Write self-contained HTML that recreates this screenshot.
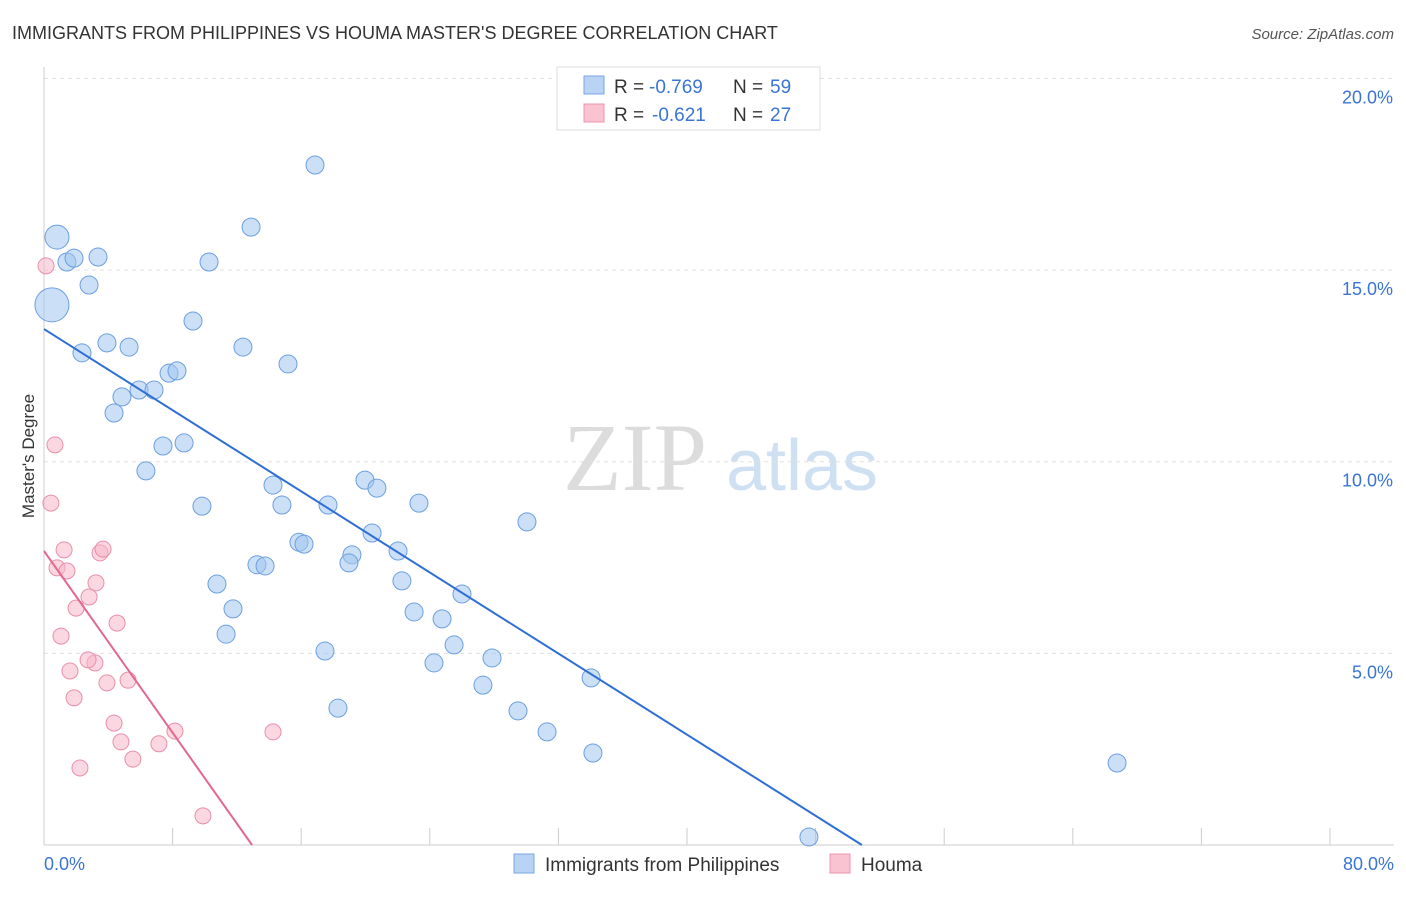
<!DOCTYPE html>
<html><head><meta charset="utf-8"><style>
body{margin:0;background:#fff;font-family:"Liberation Sans",sans-serif;}
</style></head><body>
<svg id="c" width="1406" height="892" xmlns="http://www.w3.org/2000/svg" style="font-family:'Liberation Sans',sans-serif">
<text x="12" y="39" font-size="18" fill="#333">IMMIGRANTS FROM PHILIPPINES VS HOUMA MASTER'S DEGREE CORRELATION CHART</text>
<text x="1394" y="39" font-size="15" fill="#555" font-style="italic" text-anchor="end">Source: ZipAtlas.com</text>
<g>
<text x="635" y="490" font-size="96" fill="#dcdcdc" font-family="Liberation Serif,serif" text-anchor="middle">ZIP</text>
<text x="802" y="490" font-size="72" fill="#cfe0f3" text-anchor="middle">atlas</text>
</g>
<g id="grid"></g>
<g id="axes"></g>
<g id="marks"></g>
<text transform="translate(34,456) rotate(-90)" font-size="17" fill="#333" text-anchor="middle">Master's Degree</text>
<text x="44" y="870" font-size="18" fill="#3a75d4">0.0%</text>
<text x="1394" y="870" font-size="18" fill="#3a75d4" text-anchor="end">80.0%</text>
<g>
<rect x="557" y="67" width="263" height="63" fill="#fff" stroke="#ddd"/>
<rect x="584" y="76" width="20" height="18" fill="#b9d3f5" stroke="#7aa6e4"/>
<rect x="584" y="104" width="20" height="18" fill="#f9c3d2" stroke="#ec94ad"/>
<text x="614" y="93" font-size="19" fill="#333">R =</text>
<text x="649" y="93" font-size="19" fill="#3a75d4">-0.769</text>
<text x="733" y="93" font-size="19" fill="#333">N =</text>
<text x="770" y="93" font-size="19" fill="#3a75d4">59</text>
<text x="614" y="121" font-size="19" fill="#333">R =</text>
<text x="652" y="121" font-size="19" fill="#3a75d4">-0.621</text>
<text x="733" y="121" font-size="19" fill="#333">N =</text>
<text x="770" y="121" font-size="19" fill="#3a75d4">27</text>
</g>
<g>
<rect x="514" y="854" width="20" height="19" fill="#b9d3f5" stroke="#7aa6e4"/>
<text x="545" y="871" font-size="19" fill="#333">Immigrants from Philippines</text>
<rect x="830" y="854" width="20" height="19" fill="#f9c3d2" stroke="#ec94ad"/>
<text x="861" y="871" font-size="19" fill="#333">Houma</text>
</g>
</svg>
<script>
const yTicks=[5,10,15,20];
const yTickLabels=["5.0%","10.0%","15.0%","20.0%"];
const blueX=[0.77,0.47,1.36,1.78,3.20,2.67,2.25,3.73,5.04,4.62,4.15,5.63,6.52,7.41,7.88,8.83,9.78,12.27,16.06,11.79,14.46,7.05,8.30,6.04,9.36,13.57,14.10,15.11,15.41,16.83,19.02,19.73,22.22,19.44,18.25,18.07,20.98,12.62,13.10,10.25,11.20,10.79,21.21,21.93,23.59,24.77,24.30,23.11,26.55,26.01,28.09,17.42,16.65,28.62,29.81,32.42,32.53,63.59,45.33];
const blueY=[15.86,14.09,15.21,15.31,15.34,14.61,12.84,13.10,12.99,11.69,11.27,11.87,11.87,12.31,12.37,13.67,15.21,16.12,17.74,12.99,12.55,10.41,10.49,9.76,8.84,9.39,8.87,7.90,7.85,8.87,9.52,9.31,8.92,8.14,7.57,7.36,7.67,7.31,7.28,6.81,6.16,5.50,6.89,6.08,5.90,6.55,5.22,4.75,4.88,4.17,3.50,3.57,5.06,8.43,2.95,4.36,2.40,2.14,0.21];
const blueR=[12,17];
const pinkX=[0.12,0.65,0.41,1.19,0.77,1.36,3.32,3.50,3.08,2.67,1.90,4.33,1.01,3.02,2.61,1.54,4.98,3.73,1.78,4.15,4.56,7.76,6.81,5.27,2.13,13.57,9.42];
const pinkY=[15.11,10.44,8.92,7.70,7.23,7.15,7.62,7.72,6.84,6.47,6.18,5.79,5.45,4.75,4.83,4.54,4.30,4.23,3.84,3.18,2.69,2.97,2.64,2.24,2.01,2.95,0.76];
const blueLine=[[0,13.46],[48.47,0]];
const pinkLine=[[0,7.67],[12.33,0]];
const NS="http://www.w3.org/2000/svg";
const sx=v=>44+v*1350/80, sy=v=>845-v*38.33;
function mk(p,t,a){const e=document.createElementNS(NS,t);for(const k in a)e.setAttribute(k,a[k]);p.appendChild(e);return e;}
const grid=document.getElementById('grid'),axes=document.getElementById('axes'),marks=document.getElementById('marks');
yTicks.forEach((t,i)=>{
 const l=mk(grid,'line',{x1:44,x2:1394,y1:sy(t),y2:sy(t),stroke:'#e0e0e0','stroke-dasharray':'4,4'});
 
 
 const tx=mk(grid,'text',{x:1393,y:sy(t)+25,'font-size':18,fill:'#3a75d4','text-anchor':'end'});
 tx.textContent=yTickLabels[i];
 
 
});
mk(axes,'line',{x1:44,x2:44,y1:67,y2:845,stroke:'#ccc'});
mk(axes,'line',{x1:44,x2:1394,y1:845,y2:845,stroke:'#ccc'});
for(let k=1;k<=10;k++){const x=44+k*128.6;const t=mk(axes,'line',{x1:x,x2:x,y1:828,y2:845,stroke:'#ccc'});
 
 }
blueX.forEach((x,i)=>{const c=mk(marks,'circle',{cx:sx(x),cy:sy(blueY[i]),r:blueR[i]||9,fill:'rgba(160,196,240,0.55)',stroke:'#6d9fe0','stroke-width':1});
 
 });
pinkX.forEach((x,i)=>{const c=mk(marks,'circle',{cx:sx(x),cy:sy(pinkY[i]),r:8,fill:'rgba(248,182,202,0.55)',stroke:'#e98fab','stroke-width':1});
 
 });
const bl=mk(marks,'line',{x1:sx(blueLine[0][0]),y1:sy(blueLine[0][1]),x2:sx(blueLine[1][0]),y2:sy(blueLine[1][1]),stroke:'#2f6fd4','stroke-width':2});


const pl=mk(marks,'line',{x1:sx(pinkLine[0][0]),y1:sy(pinkLine[0][1]),x2:sx(pinkLine[1][0]),y2:sy(pinkLine[1][1]),stroke:'#e2688f','stroke-width':2});


</script>
</body></html>
